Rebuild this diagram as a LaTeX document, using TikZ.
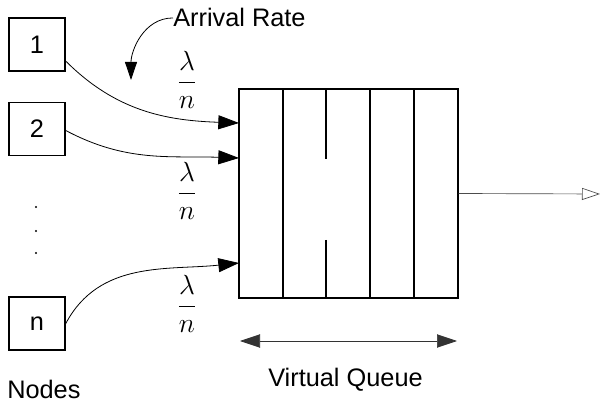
\documentclass[tikz,border=0pt]{standalone}
\usepackage{fontspec}
\setmainfont{Liberation Sans}
\usetikzlibrary{arrows.meta, positioning, calc}

\begin{document}
\begin{tikzpicture}[
  x=0.75pt, y=-0.75pt,
  font=\fontsize{19}{22}\selectfont,
  station/.style={rectangle, draw, line width=1.2pt, minimum width=42pt,
                  minimum height=39.75pt, inner sep=0pt},
  buffer/.style={rectangle, draw, line width=1.1pt, minimum width=164.25pt,
                 minimum height=156.75pt, inner sep=0pt},
  rate/.style={inner sep=0pt, font=\fontsize{20}{22}\selectfont},
  caption/.style={inner sep=0pt, anchor=base west},
  feed/.style={-{Triangle[length=15.5pt,width=10.5pt]}, line width=0.6pt},
  outflow/.style={-{Triangle[open,length=13.5pt,width=9pt]}, line width=0.5pt, draw=black!70}
]
  \useasboundingbox (0,0) rectangle (601,403);

  % sending nodes
  \node[station] (s1) at (37,44.5) {1};
  \node[station] (s2) at (37,129) {2};
  \node[station] (sn) at (37,323.5) {n};
  \foreach \y in {207,231,253}
    \fill (36,\y) circle (0.9pt);

  % the shared queue
  \node[buffer] (queue) at (348.5,193.5) {};
  \foreach \x in {283,370,414}
    \draw[line width=1pt] (\x,89) -- (\x,298);
  \draw[line width=1pt] (326,89) -- (326,159) (326,240) -- (326,298);

  \coordinate (in1) at (239,123);
  \coordinate (in2) at (239,158);
  \coordinate (in3) at (239,263);
  \coordinate (sink) at (600,194);

  \draw[feed] (s1.-30) to[out=-45,in=178] (in1);
  \draw[feed] (s2.-3) to[out=-28,in=178] (in2);
  \draw[feed] (sn.east) to[out=62,in=186] (in3);
  \draw[outflow] (queue.east) -- (sink);

  % rates
  \node[rate] (r1) at (187,80) {$\displaystyle\frac{\lambda}{n}$};
  \node[rate] (r2) at (187,191) {$\displaystyle\frac{\lambda}{n}$};
  \node[rate] (r3) at (187,304) {$\displaystyle\frac{\lambda}{n}$};

  \node[caption] (arrival) at (173,27) {Arrival Rate};
  \coordinate (hint) at (131,80);
  \draw[-{Triangle[length=13.5pt,width=9pt]}, line width=0.6pt]
    (arrival.west) to[out=180,in=90] (hint);

  % queue length
  \coordinate (vql) at (240,341);
  \coordinate (vqr) at (457,341);
  \draw[{Triangle[length=15pt,width=10pt]}-{Triangle[length=15pt,width=10pt]},
        line width=0.5pt, draw=black!80] (vql) -- (vqr);
  \node[caption] (vq) at (268,387) {Virtual Queue};
  \node[caption] (nodes) at (7,398) {Nodes};
\end{tikzpicture}
\end{document}
